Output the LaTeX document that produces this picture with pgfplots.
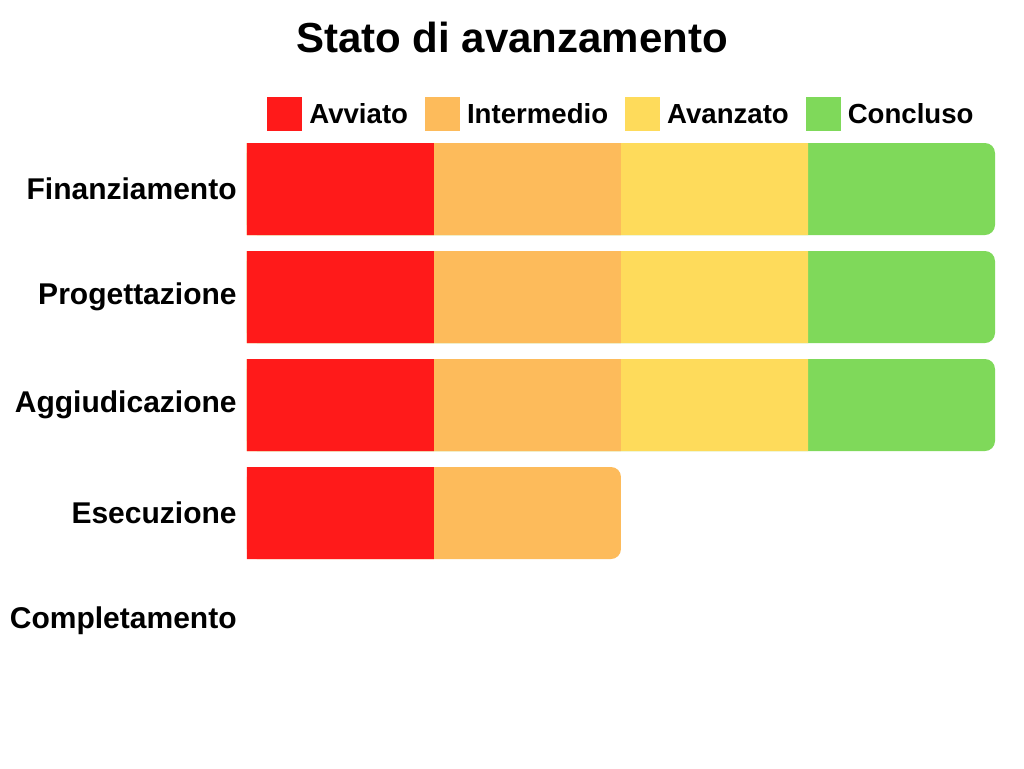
\documentclass[border=0pt]{standalone}
\usepackage{fontspec}
\setmainfont{Liberation Sans}
\usepackage{pgfplots}
\pgfplotsset{compat=1.18}

\definecolor{cRed}{HTML}{FF1A1A}
\definecolor{cOrange}{HTML}{FDBB5B}
\definecolor{cYellow}{HTML}{FEDB5B}
\definecolor{cGreen}{HTML}{7FD95A}

\begin{document}
\begin{tikzpicture}
  % page 1024x768 px, 1px = 0.5pt
  \path[use as bounding box, fill=white] (0,0) rectangle (512pt,384pt);
  \node[font=\bfseries\fontsize{21}{25}\selectfont] at (256pt,365.5pt) {Stato di avanzamento};
  \begin{axis}[
      at={(123.5pt,46.5pt)}, anchor=south west,
      scale only axis,
      width=374pt, height=270pt,
      xmin=0, xmax=4,
      ymin=-0.5, ymax=4.5,
      y dir=reverse,
      axis lines*=left,
      axis line style={draw=none},
      major tick length=0pt,
      xtick=\empty,
      ytick={0,1,2,3,4},
      yticklabels={Finanziamento,Progettazione,Aggiudicazione,Esecuzione,Completamento},
      yticklabel style={font=\bfseries\fontsize{15}{18}\selectfont, inner sep=0pt, anchor=east, xshift=-5pt},
      xbar, bar width=46pt, bar shift=0pt,
      legend columns=4,
      legend image code/.code={\fill[#1] (0pt,-8.5pt) rectangle (17.5pt,8.5pt);},
      legend style={at={(0,1)}, anchor=south west, xshift=10pt, yshift=2pt,
        draw=none, fill=none, inner sep=0pt,
        font=\bfseries\fontsize{13.8}{16}\selectfont,
        nodes={inner sep=0pt, text height=10pt, text depth=0pt},
        /tikz/every odd column/.append style={column sep=3.5pt},
        /tikz/every even column/.append style={column sep=8.5pt}},
    ]
    \addlegendimage{fill=cRed, draw=none}
    \addlegendentry{Avviato}
    \addlegendimage{fill=cOrange, draw=none}
    \addlegendentry{Intermedio}
    \addlegendimage{fill=cYellow, draw=none}
    \addlegendentry{Avanzato}
    \addlegendimage{fill=cGreen, draw=none}
    \addlegendentry{Concluso}

    % cumulative end of each stage, drawn from the outermost inwards
    \addplot[fill=cGreen, draw=none, rounded corners=5pt, forget plot]
      coordinates {(4,0) (4,1) (4,2)};
    \addplot[fill=cYellow, draw=none, forget plot]
      coordinates {(3,0) (3,1) (3,2)};
    \addplot[fill=cOrange, draw=none, forget plot]
      coordinates {(2,0) (2,1) (2,2)};
    \addplot[fill=cOrange, draw=none, rounded corners=5pt, forget plot]
      coordinates {(2,3)};
    \addplot[fill=cRed, draw=none, forget plot]
      coordinates {(1,0) (1,1) (1,2) (1,3)};
  \end{axis}
\end{tikzpicture}
\end{document}
